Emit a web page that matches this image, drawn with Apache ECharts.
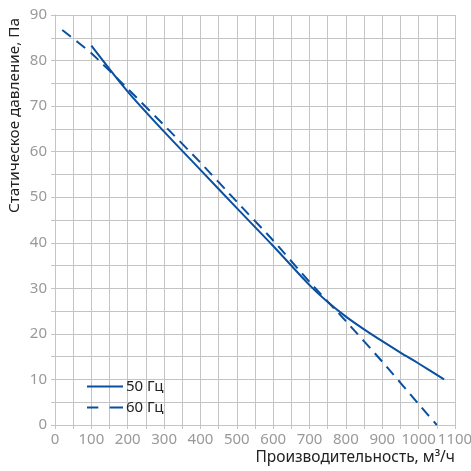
<!DOCTYPE html>
<html><head><meta charset="utf-8">
<script src="https://cdn.jsdelivr.net/npm/echarts@6/dist/echarts.min.js"></script>
<style>html,body{margin:0;padding:0;background:#fff}#c{width:471px;height:471px}</style>
</head><body><div id="c"></div>
<script>
const series50Name = '50 Гц';
const series60Name = '60 Гц';
const flow50 = [100, 200, 300, 400, 500, 600, 700, 750, 800, 850, 900, 950, 1000, 1070];
const pressure50 = [83.3, 73.2, 64.4, 56, 47.6, 39.3, 30.7, 27.0, 23.8, 21.0, 18.4, 15.9, 13.5, 10];
const flow60 = [20, 100, 200, 300, 400, 500, 600, 700, 800, 900, 1000, 1050];
const pressure60 = [86.7, 81.6, 73.8, 65.8, 57.6, 49, 40.5, 31.4, 22.8, 13.9, 4.6, 0];
const xAxisName = 'Производительность, м³/ч';
const yAxisName = 'Статическое давление, Па';

const gridColor = '#c4c4c4';
const lineColor = '#0a50a0';
const chart = echarts.init(document.getElementById('c'));
chart.setOption({
  animation: false,
  grid: {left: 55, right: 16, top: 15, bottom: 46, containLabel: false, outerBoundsMode: 'none'},
  legend: {
    left: 82, top: 374, orient: 'vertical', itemGap: 6,
    itemWidth: 36, itemHeight: 14,
    textStyle: {fontFamily: 'Noto Sans', fontSize: 15, color: '#222', padding: [0, 0, 0, -2]},
    data: [{name: series50Name, icon: 'path://M0,6 L36,6 L36,8 L0,8 Z'},
           {name: series60Name, icon: 'path://M0,6 L11,6 L11,8 L0,8 Z M22,6 L35,6 L35,8 L22,8 Z'}]
  },
  xAxis: {
    type: 'value', min: 0, max: 1100, interval: 100,
    name: xAxisName, nameLocation: 'end', nameGap: 0,
    nameTextStyle: {fontFamily: 'Noto Sans', fontSize: 15.5, color: '#222', align: 'right', verticalAlign: 'top', padding: [25, 0, 0, 0]},
    axisLine: {show: true, lineStyle: {color: gridColor}},
    axisTick: {show: true, length: 4, lineStyle: {color: gridColor}},
    minorTick: {show: true, splitNumber: 2, length: 4, lineStyle: {color: gridColor}},
    axisLabel: {fontFamily: 'Noto Sans', fontSize: 15, color: '#999', margin: 7, formatter: v => String(v)},
    splitLine: {show: true, lineStyle: {color: gridColor}},
    minorSplitLine: {show: true, lineStyle: {color: gridColor}}
  },
  yAxis: {
    type: 'value', min: 0, max: 90, interval: 10,
    name: yAxisName, nameLocation: 'end', nameGap: -3, nameRotate: 90, nameMoveOverlap: false,
    nameTextStyle: {fontFamily: 'Noto Sans', fontSize: 15.3, color: '#222', align: 'right', verticalAlign: 'bottom', padding: [0, 0, 33, 0]},
    axisLine: {show: true, lineStyle: {color: gridColor}},
    axisTick: {show: true, length: 4, lineStyle: {color: gridColor}},
    minorTick: {show: true, splitNumber: 2, length: 4, lineStyle: {color: gridColor}},
    axisLabel: {fontFamily: 'Noto Sans', fontSize: 15, color: '#999', margin: 8},
    splitLine: {show: true, lineStyle: {color: gridColor}},
    minorSplitLine: {show: true, lineStyle: {color: gridColor}}
  },
  series: [
    {name: series50Name, type: 'line', smooth: 0.3, symbol: 'none',
     color: lineColor, lineStyle: {width: 2, color: lineColor},
     data: flow50.map((x, i) => [x, pressure50[i]])},
    {name: series60Name, type: 'line', smooth: 0.2, symbol: 'none',
     color: lineColor, lineStyle: {width: 2, color: lineColor, type: [11, 7]},
     data: flow60.map((x, i) => [x, pressure60[i]])}
  ]
});
</script></body></html>
